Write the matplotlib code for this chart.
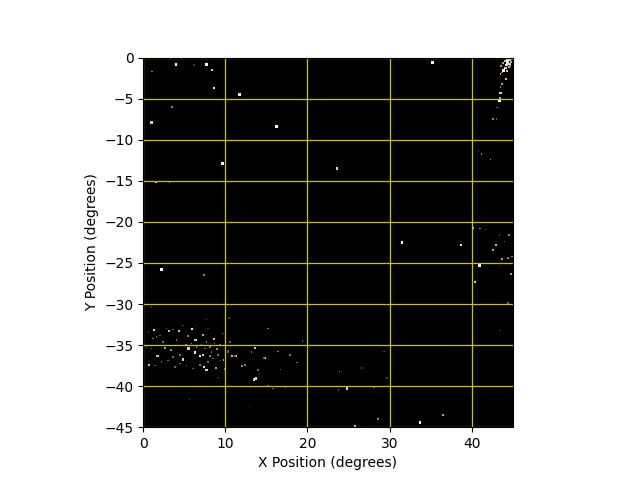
import numpy as np
import matplotlib
matplotlib.use("Agg")
import matplotlib.pyplot as plt
from matplotlib.colors import LinearSegmentedColormap

# Isolated field stars (degrees) and relative brightness
field_x = [4.0, 7.7, 8.4, 1.1, 6.2, 8.6, 11.7, 3.5, 1.0, 9.7, 16.2, 23.6, 35.2,
           1.6, 3.2, 2.2, 7.4,
           31.5, 38.7, 40.1, 41.0, 41.7, 43.4, 44.5, 44.0, 42.9, 42.6, 44.4, 43.7,
           44.9, 40.9, 43.5, 44.8, 40.4, 44.4, 43.5,
           23.9, 26.6, 24.8, 23.8, 28.1, 29.7, 29.3, 28.6, 25.8, 33.7, 36.5]
field_y = [-0.85, -0.8, -1.5, -1.7, -0.9, -3.7, -4.5, -6.0, -7.9, -12.9, -8.4, -13.5, -0.6,
           -15.1, -15.2, -25.8, -26.5,
           -22.5, -22.8, -20.8, -20.8, -20.9, -21.6, -21.6, -22.4, -22.8, -23.4, -24.4, -24.5,
           -24.2, -25.3, -25.3, -26.3, -27.3, -29.9, -33.2,
           -38.2, -37.8, -40.3, -40.5, -40.1, -39.0, -35.8, -44.0, -44.8, -44.4, -43.5]
field_b = [1.0, 1.0, 0.8, 0.5, 0.25, 0.9, 0.9, 0.5, 0.8, 1.0, 1.0, 0.8, 1.0,
           0.7, 0.5, 1.0, 0.5,
           1.0, 0.9, 0.7, 0.5, 0.3, 0.3, 0.5, 0.4, 0.7, 0.6, 0.5, 0.6,
           0.5, 1.0, 0.3, 0.6, 0.8, 0.4, 0.4,
           0.5, 0.4, 0.8, 0.4, 0.4, 0.3, 0.3, 0.5, 0.7, 1.0, 0.6]

# Dense stream in the top-right corner
stream_x = [44.3, 44.6, 44.0, 44.8, 44.4, 43.8, 44.6, 44.2, 44.9, 43.6, 44.5, 44.1,
            44.7, 43.9, 44.3, 44.0, 44.7, 43.7,
            43.9, 43.5, 44.2, 43.7, 43.5, 43.5, 43.4, 43.4, 43.1, 43.0, 42.6,
            40.8, 41.2, 42.3]
stream_y = [-0.2, -0.3, -0.4, -0.5, -0.6, -0.7, -0.8, -0.9, -0.2, -1.0, -1.1, -1.3,
            -1.0, -1.5, -1.6, -0.1, -0.05, -1.8,
            -1.6, -2.0, -2.6, -3.2, -3.6, -4.3, -4.9, -5.2, -6.1, -7.5, -7.5,
            -11.3, -11.7, -12.4]
stream_b = [0.9, 0.8, 0.7, 0.6, 1.0, 0.6, 0.8, 0.9, 0.5, 0.6, 0.7, 0.8,
            0.5, 0.6, 0.7, 0.5, 0.6, 0.5,
            1.0, 0.6, 0.7, 0.6, 0.5, 0.8, 0.6, 1.0, 0.4, 0.4, 0.5,
            0.4, 0.5, 0.5]

# Cluster in the lower-left
cluster_x = [5.92, 1.34, 3.12, 4.34, 6.36, 7.30, 8.59, 5.51, 6.28, 6.89, 7.30, 4.86,
             1.74, 0.73, 2.68, 9.00, 7.42, 7.70, 8.84, 9.77, 10.86, 11.27, 13.62, 14.80,
             13.50, 13.70, 12.08, 12.40, 9.89, 8.11, 8.31, 9.32, 5.43, 4.05, 1.22, 1.62,
             2.43, 3.36, 3.65, 4.46, 5.19, 5.88, 6.49, 7.09, 7.70, 7.50, 8.11, 8.71,
             9.12, 9.40, 10.05, 10.34, 10.54, 8.51, 7.90, 6.89, 6.08, 5.27, 4.46, 3.85,
             3.04, 2.23, 1.42, 1.01, 0.41, 0.61, 2.03, 2.84, 3.65, 4.86, 6.49, 7.90,
             9.73, 10.46, 13.17, 13.98, 14.19, 13.09, 5.67, 12.97, 9.12, 7.70, 1.01,
             15.2, 16.4, 17.9, 18.7, 19.4, 17.3, 15.8, 15.2, 16.7, 14.7, 14.0,
             10.4, 11.2, 12.1, 13.4]
cluster_y = [-33.04, -33.20, -33.24, -33.24, -34.42, -33.73, -34.21, -35.43, -35.92,
             -36.32, -36.24, -36.77, -36.32, -37.46, -35.35, -35.47, -37.70, -38.06,
             -37.78, -36.77, -36.28, -36.32, -35.35, -36.56, -39.16, -39.08, -37.58,
             -37.46, -37.94, -36.32, -35.83, -34.98, -33.93, -34.38, -34.21, -34.01,
             -34.62, -35.63, -36.44, -36.24, -35.02, -34.82, -35.23, -34.94, -34.62,
             -35.43, -35.23, -34.82, -36.24, -36.85, -37.05, -35.83, -34.62, -36.65,
             -37.05, -37.46, -37.86, -37.46, -37.25, -37.66, -36.85, -37.05, -37.46,
             -35.43, -35.23, -33.40, -33.81, -33.00, -33.08, -32.59, -32.59, -33.00,
             -33.61, -31.70, -35.83, -38.06, -38.59, -40.29, -41.59, -42.52, -38.99,
             -31.86, -30.36,
             -33.0, -35.8, -36.2, -37.1, -34.5, -40.1, -40.3, -39.9, -38.0, -36.6, -38.1,
             -35.7, -36.3, -37.5, -39.2]
cluster_b = [0.9, 0.8, 0.7, 0.7, 0.8, 0.6, 0.7, 0.8, 0.9, 0.9, 0.8, 0.8,
             0.7, 0.7, 0.6, 0.5, 0.8, 0.8, 0.6, 0.6, 0.7, 0.7, 0.7, 0.8,
             0.9, 0.8, 0.6, 0.5, 0.45, 0.5, 0.5, 0.45, 0.5, 0.45, 0.5, 0.45,
             0.45, 0.5, 0.45, 0.45, 0.5, 0.5, 0.45, 0.45, 0.5, 0.45, 0.45, 0.4,
             0.45, 0.4, 0.4, 0.4, 0.4, 0.45, 0.4, 0.45, 0.4, 0.4, 0.4, 0.4,
             0.4, 0.4, 0.4, 0.4, 0.3, 0.3, 0.4, 0.4, 0.4, 0.3, 0.3, 0.3,
             0.3, 0.3, 0.45, 0.4, 0.4, 0.3, 0.3, 0.3, 0.3, 0.3, 0.3,
             0.45, 0.5, 0.45, 0.4, 0.4, 0.45, 0.4, 0.4, 0.4, 0.4, 0.45,
             0.45, 0.45, 0.4, 0.4]

xticks = [0, 10, 20, 30, 40]
yticks = [0, -5, -10, -15, -20, -25, -30, -35, -40, -45]

star_cmap = LinearSegmentedColormap.from_list(
    "stars", ["#000000", "#5a4a3c", "#c8b8a4", "#fffaf2"])

fig = plt.figure(figsize=(6.4, 4.8), dpi=100)
ax = fig.add_subplot(111)
ax.set_facecolor("black")

for xs, ys, bs in [(field_x, field_y, field_b),
                   (stream_x, stream_y, stream_b),
                   (cluster_x, cluster_y, cluster_b)]:
    b = np.asarray(bs)
    ax.scatter(xs, ys, c=b, cmap=star_cmap, vmin=0, vmax=1,
               s=0.6 + 3.4 * b ** 2, marker="s", linewidths=0, zorder=1)

ax.set_xlim(0, 45)
ax.set_ylim(-45, 0)
ax.set_aspect("equal")
ax.set_xticks(xticks)
ax.set_yticks(yticks)
ax.grid(True, color="#c8c400", linewidth=0.9)
ax.set_xlabel("X Position (degrees)")
ax.set_ylabel("Y Position (degrees)")

fig.savefig("out.png", dpi=100)
